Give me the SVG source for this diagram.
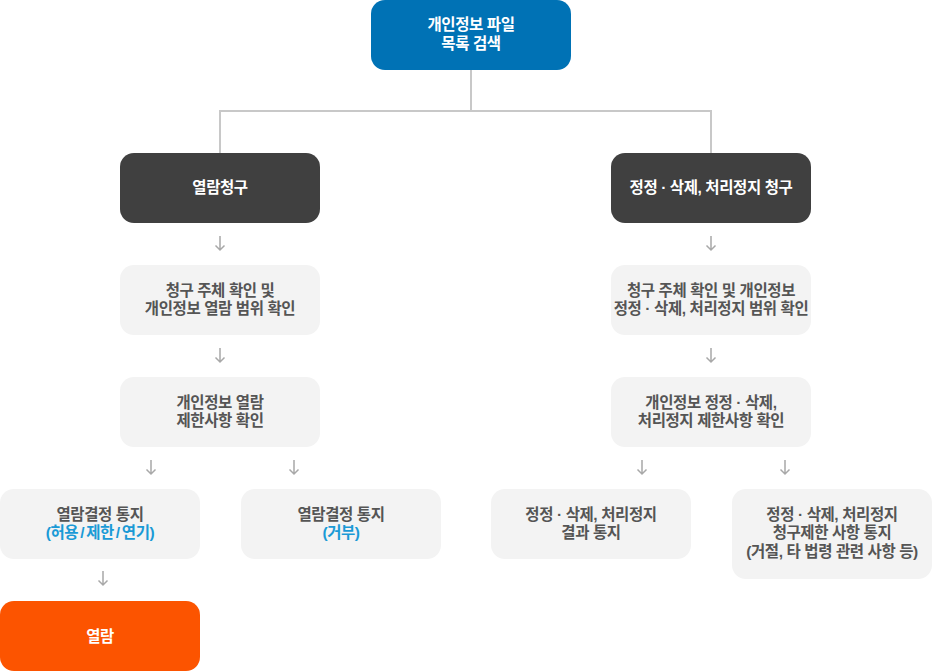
<svg xmlns="http://www.w3.org/2000/svg" width="932" height="671" viewBox="0 0 932 671">
<defs>
<style>
.t{font-family:"Liberation Sans","Noto Sans CJK KR",sans-serif;font-weight:bold;font-size:15.5px;text-anchor:middle;letter-spacing:-0.4px}
.w{fill:#ffffff}
.g{fill:#555555}
.b{fill:#1a9ad6}
.lb{fill:#f3f3f3}
.dk{fill:#404040}
.ln{fill:none;stroke:#c8c8c8;stroke-width:2}
.ar{fill:none;stroke:#a8a8a8;stroke-width:1.5}
</style>
</defs>
<g id="connectors">
<path class="ln" d="M471 70V111M220 111H711M220 110V153M711 110V153"/>
<path class="ar" d="M220 236V250M215.5 245.5L220 250L224.5 245.5"/>
<path class="ar" d="M220 348V362M215.5 357.5L220 362L224.5 357.5"/>
<path class="ar" d="M151 460V474M146.5 469.5L151 474L155.5 469.5"/>
<path class="ar" d="M294 460V474M289.5 469.5L294 474L298.5 469.5"/>
<path class="ar" d="M103 571V585M98.5 580.5L103 585L107.5 580.5"/>
<path class="ar" d="M711 236V250M706.5 245.5L711 250L715.5 245.5"/>
<path class="ar" d="M711 348V362M706.5 357.5L711 362L715.5 357.5"/>
<path class="ar" d="M642 460V474M637.5 469.5L642 474L646.5 469.5"/>
<path class="ar" d="M785 460V474M780.5 469.5L785 474L789.5 469.5"/>
</g>
<g id="n-search">
<rect x="371" y="0" width="200" height="70" rx="14" fill="#0072b5"/>
<text class="t w"><tspan x="471" y="30">개인정보 파일</tspan><tspan x="471" y="48.5">목록 검색</tspan></text>
</g>
<g id="n-view-req">
<rect class="dk" x="120" y="153" width="200" height="70" rx="14"/>
<text class="t w" x="220" y="193">열람청구</text>
</g>
<g id="n-corr-req">
<rect class="dk" x="611" y="153" width="200" height="70" rx="14"/>
<text class="t w" x="711" y="193">정정 · 삭제, 처리정지 청구</text>
</g>
<g id="n-view-check1">
<rect class="lb" x="120" y="265" width="200" height="70" rx="14"/>
<text class="t g"><tspan x="220" y="296">청구 주체 확인 및</tspan><tspan x="220" y="314">개인정보 열람 범위 확인</tspan></text>
</g>
<g id="n-view-check2">
<rect class="lb" x="120" y="377" width="200" height="70" rx="14"/>
<text class="t g"><tspan x="220" y="408">개인정보 열람</tspan><tspan x="220" y="426">제한사항 확인</tspan></text>
</g>
<g id="n-view-ok">
<rect class="lb" x="0" y="489" width="200" height="70" rx="14"/>
<text class="t"><tspan class="g" x="100" y="520">열람결정 통지</tspan><tspan class="b" x="100" y="538">(허용<tspan dx="2">/</tspan><tspan dx="2">제한</tspan><tspan dx="2">/</tspan><tspan dx="2">연기)</tspan></tspan></text>
</g>
<g id="n-view-no">
<rect class="lb" x="241" y="489" width="200" height="70" rx="14"/>
<text class="t"><tspan class="g" x="341" y="520">열람결정 통지</tspan><tspan class="b" x="341" y="538">(거부)</tspan></text>
</g>
<g id="n-view">
<rect x="0" y="601" width="200" height="70" rx="14" fill="#fc5400"/>
<text class="t w" x="100" y="642">열람</text>
</g>
<g id="n-corr-check1">
<rect class="lb" x="611" y="265" width="200" height="70" rx="14"/>
<text class="t g"><tspan x="711" y="296">청구 주체 확인 및 개인정보</tspan><tspan x="711" y="314">정정 · 삭제, 처리정지 범위 확인</tspan></text>
</g>
<g id="n-corr-check2">
<rect class="lb" x="611" y="377" width="200" height="70" rx="14"/>
<text class="t g"><tspan x="711" y="408">개인정보 정정 · 삭제,</tspan><tspan x="711" y="426">처리정지 제한사항 확인</tspan></text>
</g>
<g id="n-corr-result">
<rect class="lb" x="491" y="489" width="200" height="70" rx="14"/>
<text class="t g"><tspan x="591" y="520">정정 · 삭제, 처리정지</tspan><tspan x="591" y="538">결과 통지</tspan></text>
</g>
<g id="n-corr-limit">
<rect class="lb" x="732" y="489" width="200" height="90" rx="14"/>
<text class="t g"><tspan x="832" y="520">정정 · 삭제, 처리정지</tspan><tspan x="832" y="538">청구제한 사항 통지</tspan><tspan x="832" y="556.5">(거절, 타 법령 관련 사항 등)</tspan></text>
</g>
</svg>
